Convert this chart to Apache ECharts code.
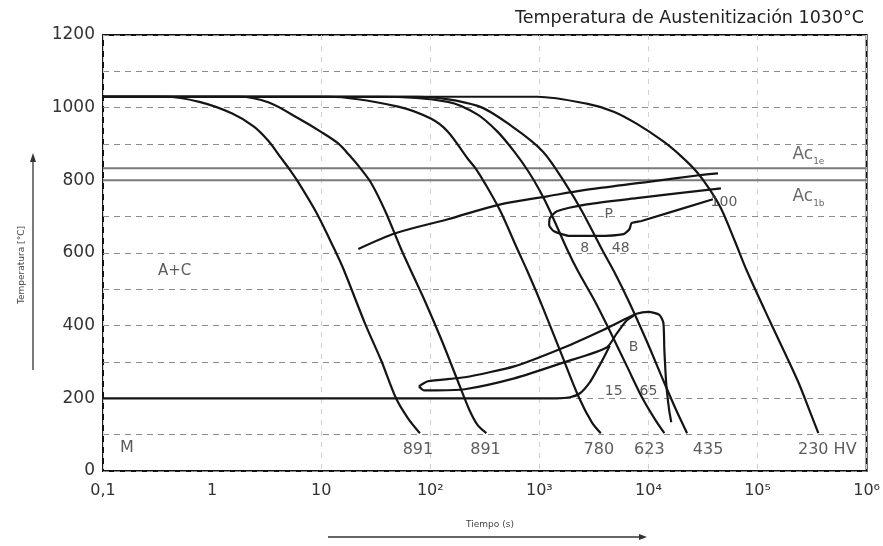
<!DOCTYPE html>
<html>
<head>
<meta charset="utf-8">
<script src="https://cdn.jsdelivr.net/npm/echarts@6/dist/echarts.min.js"></script>
<style>
html,body{margin:0;padding:0;background:#fff;}
#chart{width:883px;height:546px;}
</style>
</head>
<body>
<div id="chart"></div>
<script>
// ---- Data: [time (s), temperature (°C)] ----
const chartTitle = 'Temperatura de Austenitización 1030°C';
const xTitle = 'Tiempo (s)';
const yTitle = 'Temperatura [°C]';

const curve891a = [[0.1,1030],[0.367,1030],[0.764,1016],[1.53,984],[2.42,948],[3.32,907],[4.18,866],[5.05,833],[6.10,797],[9.08,710],[13.2,611],[16.0,556],[25.3,405],[35.5,304],[48.6,200],[62.5,145],[80.4,104]];
const curve891b = [[0.1,1030],[1.77,1030],[3.32,1014],[6.22,970],[9.89,934],[14.4,901],[18.5,866],[23.3,830],[28.8,792],[38.7,715],[54.0,611],[68.0,545],[89.3,468],[130,353],[178,249],[229,167],[272,126],[327,104]];
const curve780 = [[0.1,1030],[11.7,1030],[50.7,1003],[101,970],[145,934],[220,860],[260,833],[321,789],[440,715],[628,611],[774,551],[1016,468],[1545,332],[2300,203],[3030,134],[3660,104]];
const curve623 = [[0.1,1030],[33.3,1030],[145,1016],[272,981],[413,934],[589,879],[791,825],[1016,770],[1254,715],[1790,611],[2250,551],[3220,468],[4420,386],[6310,290],[8820,200],[11600,140],[14000,104]];
const curve435 = [[0.1,1030],[77.1,1030],[272,1005],[565,948],[1080,879],[1750,789],[2460,715],[3730,611],[4800,551],[6580,468],[9590,359],[13700,249],[18000,167],[22600,104]];
const curve230 = [[0.1,1030],[955,1030],[2720,1011],[4800,989],[7780,956],[13700,907],[20000,866],[27400,825],[35900,778],[46200,723],[61900,633],[79800,551],[129000,414],[233000,249],[312000,153],[361000,104]];

const pearliteStart = [[21.9,611],[48.6,655],[145,693],[440,734],[1180,756],[2560,773],[9590,795],[29100,814],[43400,819]];
const pearliteEnd = [[46200,778],[7780,751],[2720,734],[1450,715],[1250,696],[1230,677],[1360,660],[1910,647],[3360,647],[5910,652],[6710,666],[7000,682],[8630,688],[39000,748]];
const bainiteStart = [[78.7,233],[95.1,247],[207,258],[589,288],[1680,340],[3890,389],[5920,416],[7780,433],[10000,438],[12600,430],[13700,408],[14000,332],[14600,236],[15500,167],[16200,134]];
const bainiteLower = [[78.7,233],[87.5,222],[117,222],[207,225],[589,255],[1680,299],[4140,340],[5110,378],[6310,414],[7300,427]];
const msLine = [[0.1,200],[1450,200],[1910,203],[2360,214],[2900,244],[3360,277],[3890,312],[4420,345]];

const acUpperTemp = 833;
const acLowerTemp = 800;

const hardnessTexts = ['891','891','780','623','435','230 HV','M'];
const hardnessTimes = [77.1, 321, 3510, 10200, 35200, 436000, 0.166];
const hardnessTemps = [58, 58, 58, 58, 58, 58, 63];

const regionTexts = ['P','8','48','100','B','15','65'];
const regionTimes = [4330, 2610, 5560, 49200, 7300, 4800, 10000];
const regionTemps = [707, 614, 614, 740, 340, 219, 219];

const phaseText = 'A+C';
const phaseTime = 0.453;
const phaseTemp = 551;

const acTexts = ['Ac{s|1e}', 'Ac{s|1b}'];
const acTimes = [209000, 209000];
const acTemps = [871, 756];

const xTickLabels = {'-1':'0,1','0':'1','1':'10','2':'10²','3':'10³','4':'10⁴','5':'10⁵','6':'10⁶'};
const yTickValues = [0,200,400,600,800,1000,1200];

// ---- Chart ----
const FONT = 'DejaVu Sans';
const chart = echarts.init(document.getElementById('chart'), null, {renderer:'canvas'});

function curve(data, extra){
  return Object.assign({
    type:'line', data:data, symbol:'none', showSymbol:false,
    smooth:0.3,
    lineStyle:{color:'#151515', width:2.2},
    z:5, silent:true, animation:false
  }, extra||{});
}
function zipLabels(times, temps, texts){
  return times.map((t,i)=>({value:[t, temps[i]], name:texts[i]}));
}

const option = {
  animation:false,
  backgroundColor:'#ffffff',
  title:{
    text:chartTitle, right:14, top:4,
    textStyle:{fontFamily:FONT, fontSize:17.5, fontWeight:'normal', color:'#222'}
  },
  grid:{left:103, right:11, top:35, bottom:75, show:true, borderColor:'#111', borderWidth:2, backgroundColor:'rgba(0,0,0,0)'},
  xAxis:{
    type:'log', logBase:10, min:0.1, max:1000000,
    axisLine:{show:false}, axisTick:{show:false},
    axisLabel:{
      fontFamily:FONT, fontSize:16, color:'#333', margin:12,
      formatter:function(v){ const e = Math.round(Math.log10(v)); return xTickLabels[String(e)] || ''; }
    },
    splitLine:{show:true, lineStyle:{type:[5,6], width:1.1,
      color:['#d2d2d2','rgba(0,0,0,0)','#d2d2d2','#d2d2d2','#d2d2d2','#d2d2d2','#d2d2d2','#d2d2d2']}}
  },
  yAxis:{
    type:'value', min:0, max:1200, interval:100,
    axisLine:{show:false}, axisTick:{show:false},
    axisLabel:{
      fontFamily:FONT, fontSize:17, color:'#333', margin:8,
      formatter:function(v){ return yTickValues.indexOf(v) >= 0 ? String(v) : ''; }
    },
    splitLine:{show:true, lineStyle:{type:[6,5], width:1.2, color:'#8c8c8c'}}
  },
  series:[
    curve([[0.1,acUpperTemp],[1000000,acUpperTemp]], {smooth:false, lineStyle:{color:'#7a7a7a', width:2}, z:3}),
    curve([[0.1,acLowerTemp],[1000000,acLowerTemp]], {smooth:false, lineStyle:{color:'#7a7a7a', width:2}, z:3}),
    curve(curve891a), curve(curve891b), curve(curve780),
    curve(curve623), curve(curve435), curve(curve230),
    curve(pearliteStart),
    curve(pearliteEnd, {smooth:0.2}),
    curve(bainiteStart, {smooth:0.2}),
    curve(bainiteLower, {smooth:0.25}),
    curve(msLine, {smooth:0.25}),
    {
      type:'scatter', symbolSize:0, silent:true, z:10,
      data:zipLabels(hardnessTimes, hardnessTemps, hardnessTexts),
      label:{show:true, position:'inside', formatter:'{b}', fontFamily:FONT, fontSize:16, color:'#333'}
    },
    {
      type:'scatter', symbolSize:0, silent:true, z:10,
      data:zipLabels(regionTimes, regionTemps, regionTexts),
      label:{show:true, position:'inside', formatter:'{b}', fontFamily:FONT, fontSize:14, color:'#333'}
    },
    {
      type:'scatter', symbolSize:0, silent:true, z:10,
      data:[{value:[phaseTime, phaseTemp], name:phaseText}],
      label:{show:true, position:'inside', formatter:'{b}', fontFamily:FONT, fontSize:15, color:'#333'}
    },
    {
      type:'scatter', symbolSize:0, silent:true, z:10,
      data:zipLabels(acTimes, acTemps, acTexts),
      label:{show:true, position:'inside', align:'left', formatter:'{b}', fontFamily:FONT, fontSize:17, color:'#444',
        rich:{s:{fontFamily:FONT, fontSize:9, color:'#444', padding:[14,0,0,0]}}}
    }
  ],
  graphic:[
    {type:'line', shape:{x1:33, y1:370, x2:33, y2:160}, style:{stroke:'#333', lineWidth:1.3}},
    {type:'polygon', shape:{points:[[33,153],[30,162],[36,162]]}, style:{fill:'#333'}},
    {type:'text', x:22, y:265, rotation:Math.PI/2, style:{text:yTitle, font:'9px "DejaVu Sans"', fill:'#444', align:'center', verticalAlign:'middle'}},
    {type:'line', shape:{x1:328, y1:537, x2:640, y2:537}, style:{stroke:'#333', lineWidth:1.3}},
    {type:'polygon', shape:{points:[[647,537],[639,534],[639,540]]}, style:{fill:'#333'}},
    {type:'text', x:490, y:525, style:{text:xTitle, font:'9px "DejaVu Sans"', fill:'#444', align:'center', verticalAlign:'middle'}}
  ]
};
chart.setOption(option);
</script>
</body>
</html>
